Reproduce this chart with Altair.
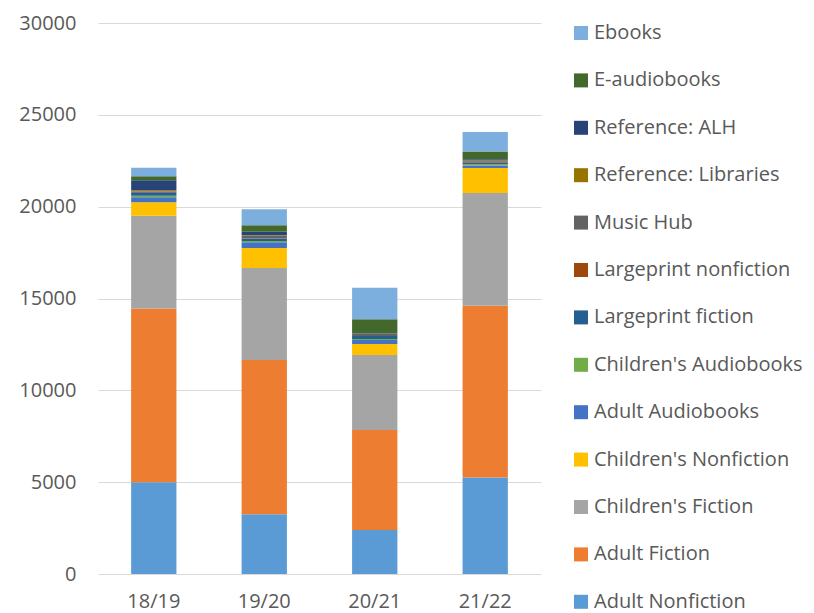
import altair as alt
import pandas as pd

years = ["18/19", "19/20", "20/21", "21/22"]

# stacking order bottom -> top
series = [
    "Adult Nonfiction", "Adult Fiction", "Children's Fiction", "Children's Nonfiction",
    "Adult Audiobooks", "Children's Audiobooks", "Largeprint fiction", "Largeprint nonfiction",
    "Music Hub", "Reference: Libraries", "Reference: ALH", "E-audiobooks", "Ebooks",
]
colors = [
    "#5B9BD5", "#ED7D31", "#A5A5A5", "#FFC000", "#4472C4", "#70AD47", "#255E91",
    "#9E480E", "#636363", "#997300", "#264478", "#43682B", "#7CAFDD",
]

adult_nonfiction = [5000, 3250, 2400, 5250]
adult_fiction = [9450, 8400, 5440, 9350]
childrens_fiction = [5060, 5010, 4080, 6150]
childrens_nonfiction = [730, 1090, 600, 1360]
adult_audiobooks = [270, 310, 220, 130]
childrens_audiobooks = [90, 70, 50, 70]
largeprint_fiction = [180, 130, 165, 90]
largeprint_nonfiction = [50, 20, 10, 40]
music_hub = [10, 130, 110, 90]
reference_libraries = [50, 40, 10, 20]
reference_alh = [545, 180, 20, 40]
e_audiobooks = [220, 360, 760, 420]
ebooks = [470, 870, 1720, 1050]

values = [
    adult_nonfiction, adult_fiction, childrens_fiction, childrens_nonfiction,
    adult_audiobooks, childrens_audiobooks, largeprint_fiction, largeprint_nonfiction,
    music_hub, reference_libraries, reference_alh, e_audiobooks, ebooks,
]

rows = []
for i, (s, vals) in enumerate(zip(series, values)):
    for y, v in zip(years, vals):
        rows.append({"year": y, "series": s, "value": v, "idx": i})
df = pd.DataFrame(rows)

FONT = "Open Sans"
TXT = "#595959"

chart = alt.Chart(df).mark_bar().encode(
    x=alt.X("year:N", sort=years, title=None,
            scale=alt.Scale(paddingInner=0.59, paddingOuter=0.3),
            axis=alt.Axis(labelAngle=0, labelFontSize=20, labelColor=TXT, labelFont=FONT,
                          domainColor="#D9D9D9", ticks=False, labelPadding=17)),
    y=alt.Y("value:Q", stack="zero", title=None,
            scale=alt.Scale(domain=[0, 30000], nice=False),
            axis=alt.Axis(values=[0, 5000, 10000, 15000, 20000, 25000, 30000],
                          labelFontSize=20, labelColor=TXT, labelFont=FONT,
                          domain=False, ticks=False, labelPadding=22,
                          gridColor="#D9D9D9", format="d")),
    color=alt.Color("series:N",
                    scale=alt.Scale(domain=series[::-1], range=colors[::-1]),
                    legend=alt.Legend(title=None, orient="none", legendX=473, legendY=0,
                                      symbolType="square", symbolSize=196,
                                      symbolStrokeWidth=0, labelFontSize=20,
                                      labelFont=FONT, labelColor=TXT, rowPadding=27.4,
                                      labelOffset=3, labelLimit=300)),
    order=alt.Order("idx:Q", sort="ascending"),
).properties(
    width=443, height=551,
    autosize=alt.AutoSizeParams(type="none"),
    padding={"left": 90, "top": 15, "right": 265, "bottom": 39},
).configure_view(stroke=None)

chart.save("out.html", embed_options={"renderer": "svg", "actions": False})
